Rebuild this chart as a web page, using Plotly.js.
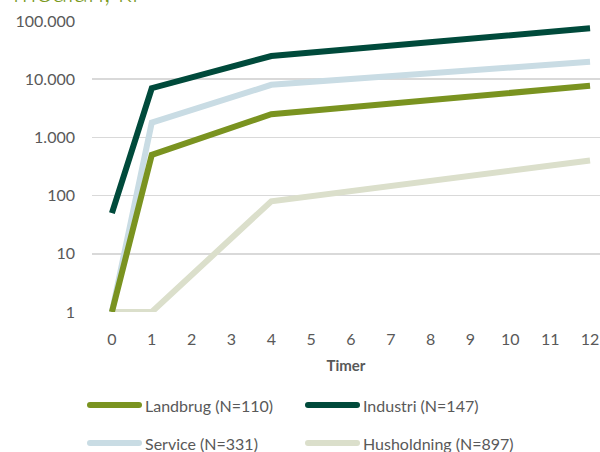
<!DOCTYPE html>
<html>
<head>
<meta charset="utf-8">
<script src="https://cdn.plot.ly/plotly-3.0.1.min.js"></script>
<style>
  html, body { margin: 0; padding: 0; background: #ffffff; }
  #chart { width: 600px; height: 452px; }
</style>
</head>
<body>
<div id="chart"></div>
<script>
// Median amounts (kr) by hours of outage, per customer group
const hours = [0, 1, 4, 12];
const seriesNames = ['Landbrug (N=110)', 'Industri (N=147)', 'Service (N=331)', 'Husholdning (N=897)'];
const landbrug = [1, 500, 2500, 7700];
const industri = [50, 7000, 25000, 75000];
const service = [1, 1800, 8000, 20000];
const husholdning = [1, 1, 80, 400];
const seriesColors = ['#7A9320', '#004A3B', '#C9DCE4', '#DBDFCB'];

const yTickVals = [1, 10, 100, 1000, 10000, 100000];
const yTickText = ['1', '10', '100', '1.000', '10.000', '100.000'];
const xTickVals = [0, 1, 2, 3, 4, 5, 6, 7, 8, 9, 10, 11, 12];

const W = 600, H = 452;
const M = { l: 92, r: 0, t: 21, b: 140 };
const plotW = W - M.l - M.r, plotH = H - M.t - M.b;
const px = x => (x - M.l) / plotW;
const py = y => (H - M.b - y) / plotH;

const font = 'Lato, "Open Sans", sans-serif';
const grey = '#595959';

// draw order: light series first, dark series on top
const order = [3, 2, 0, 1];
const values = [landbrug, industri, service, husholdning];
const traces = order.map(i => ({
  type: 'scatter',
  mode: 'lines',
  x: hours,
  y: values[i],
  name: seriesNames[i],
  line: { color: seriesColors[i], width: 6 },
  hoverinfo: 'x+y+name'
}));

// legend in two rows of two
const legendSlots = [
  { x: 87, y: 405 }, { x: 305, y: 405 },
  { x: 87, y: 443 }, { x: 305, y: 443 }
];
const shapes = [];
const annotations = [];
seriesNames.forEach((name, i) => {
  const s = legendSlots[i];
  // rounded swatch: a bar with round end caps
  shapes.push({
    type: 'path', xref: 'paper', yref: 'paper',
    path: 'M' + px(s.x + 3) + ',' + py(s.y) + ' L' + px(s.x + 52) + ',' + py(s.y),
    line: { color: seriesColors[i], width: 6 }
  });
  shapes.push({
    type: 'circle', xref: 'paper', yref: 'paper',
    x0: px(s.x), x1: px(s.x + 6), y0: py(s.y + 3), y1: py(s.y - 3),
    fillcolor: seriesColors[i], line: { width: 0 }
  });
  shapes.push({
    type: 'circle', xref: 'paper', yref: 'paper',
    x0: px(s.x + 49), x1: px(s.x + 55), y0: py(s.y + 3), y1: py(s.y - 3),
    fillcolor: seriesColors[i], line: { width: 0 }
  });
  annotations.push({
    xref: 'paper', yref: 'paper', x: px(s.x + 56), y: py(s.y),
    xanchor: 'left', yanchor: 'middle', showarrow: false,
    text: name, font: { family: font, size: 16, color: grey }
  });
});

// value-axis heading
annotations.push({
  xref: 'paper', yref: 'paper', x: px(11), y: 1, yshift: 11,
  xanchor: 'left', yanchor: 'bottom', showarrow: false,
  text: 'median, kr', font: { family: font, size: 29, weight: 300, color: '#7A9A1E' }
});

const layout = {
  width: W, height: H,
  margin: M,
  paper_bgcolor: '#ffffff', plot_bgcolor: '#ffffff',
  showlegend: false,
  xaxis: {
    type: 'linear', range: [-0.5, 12.25],
    tickvals: xTickVals, ticktext: xTickVals.map(String),
    showgrid: false, zeroline: false, showline: false, ticks: '',
    ticklabelstandoff: 16,
    tickfont: { family: font, size: 16, color: grey },
    title: { text: '<b>Timer</b>', standoff: 13, font: { family: font, size: 15, color: grey } },
    automargin: false, fixedrange: true
  },
  yaxis: {
    type: 'log', range: [0, 5],
    tickvals: yTickVals, ticktext: yTickText,
    showgrid: true, gridcolor: '#D9D9D9', gridwidth: 1.5,
    zeroline: false, showline: false, ticks: '',
    ticklabelstandoff: 16,
    tickfont: { family: font, size: 16, color: grey },
    automargin: false, fixedrange: true
  },
  shapes: shapes,
  annotations: annotations
};

Plotly.newPlot('chart', traces, layout, { displayModeBar: false, staticPlot: true });
</script>
</body>
</html>
